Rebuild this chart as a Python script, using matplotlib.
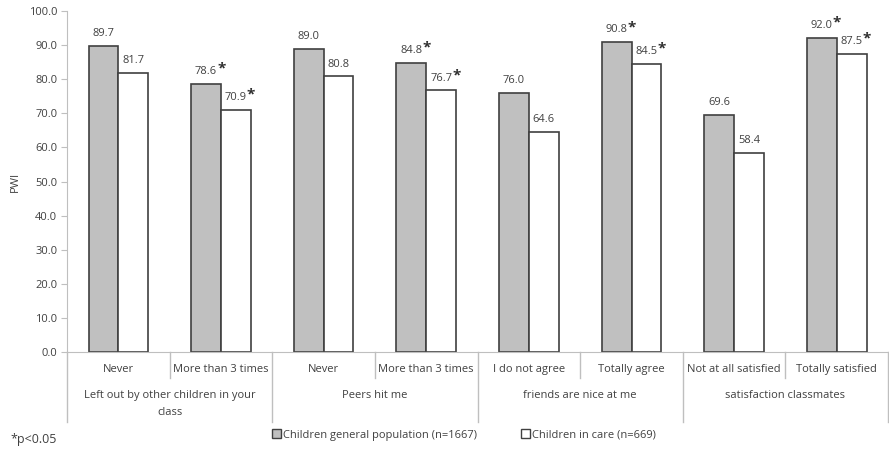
import matplotlib
matplotlib.use("Agg")
import matplotlib.pyplot as plt
import matplotlib.transforms as mtransforms
from matplotlib.patches import Patch
import numpy as np

plt.rcParams['font.family'] = ['Open Sans', 'DejaVu Sans']

# data
sub_labels = ["Never", "More than 3 times", "Never", "More than 3 times",
              "I do not agree", "Totally agree", "Not at all satisfied", "Totally satisfied"]
group_labels = ["Left out by other children in your\nclass", "Peers hit me",
                "friends are nice at me", "satisfaction classmates"]
general = [89.7, 78.6, 89.0, 84.8, 76.0, 90.8, 69.6, 92.0]
in_care = [81.7, 70.9, 80.8, 76.7, 64.6, 84.5, 58.4, 87.5]
general_sig = [False, True, False, True, False, True, False, True]
care_sig = [False, True, False, True, False, True, False, True]

txt = "#404040"

fig = plt.figure(figsize=(8.89, 4.5), dpi=100)
ax = fig.add_axes([67/889, 1-352/450, 1-67/889-0.001, 341/450])

x = np.arange(len(sub_labels))
w = 0.29
ax.bar(x - w/2, general, w, color="#c0c0c0", edgecolor="#404040", linewidth=1.2)
ax.bar(x + w/2, in_care, w, color="white", edgecolor="#404040", linewidth=1.2)

def label(xc, v, sig):
    ax.annotate("%.1f" % v, (xc, v), xytext=(0, 5), textcoords="offset points",
                ha="center", va="bottom", fontsize=8, color=txt)
    if sig:
        ax.annotate("*", (xc, v), xytext=(8, 6), textcoords="offset points",
                    ha="left", va="bottom", fontsize=11, fontweight="bold", color="#303030")

for i in range(len(x)):
    label(x[i] - w/2, general[i], general_sig[i])
    label(x[i] + w/2, in_care[i], care_sig[i])

ax.set_xlim(-0.5, len(x) - 0.5)
ax.set_ylim(0, 100)
ax.set_yticks(np.arange(0, 101, 10))
ax.set_yticklabels(["%.1f" % v for v in np.arange(0, 101, 10)], fontsize=8, color=txt)
ax.tick_params(axis="y", length=4, color="#bfbfbf", pad=3)
ax.set_xticks([])
for s in ["top", "right"]:
    ax.spines[s].set_visible(False)
ax.spines["left"].set_color("#bfbfbf")
ax.spines["bottom"].set_color("#bfbfbf")
ax.set_ylabel("PWI", fontsize=8, color=txt, labelpad=6)

trans = mtransforms.blended_transform_factory(ax.transData, ax.transAxes)
for i in range(len(x) + 1):
    xb = i - 0.5
    low = -0.205 if i % 2 == 0 else -0.076
    ax.plot([xb, xb], [0, low], transform=trans, color="#bfbfbf", lw=1, clip_on=False)

for i, s in enumerate(sub_labels):
    ax.text(i, -0.052, s, transform=trans, ha="center", va="center", fontsize=8, color=txt)
for g, s in enumerate(group_labels):
    ax.text(2*g + 0.5, -0.112, s, transform=trans, ha="center", va="top", fontsize=8,
            color=txt, linespacing=1.7)

handles = [Patch(facecolor="#c0c0c0", edgecolor="#404040", label="Children general population (n=1667)"),
           Patch(facecolor="white", edgecolor="#404040", label="Children in care (n=669)")]
fig.legend(handles=handles, loc="center", bbox_to_anchor=(464/889, 1-435/450), ncol=2,
           frameon=False, fontsize=8, handlelength=0.8, handleheight=0.8,
           handletextpad=0.2, columnspacing=4.0, labelcolor=txt)

fig.text(10/889, 1-440/450, "*p<0.05", fontsize=9, color=txt, va="center")

fig.savefig("out.png", dpi=100)
